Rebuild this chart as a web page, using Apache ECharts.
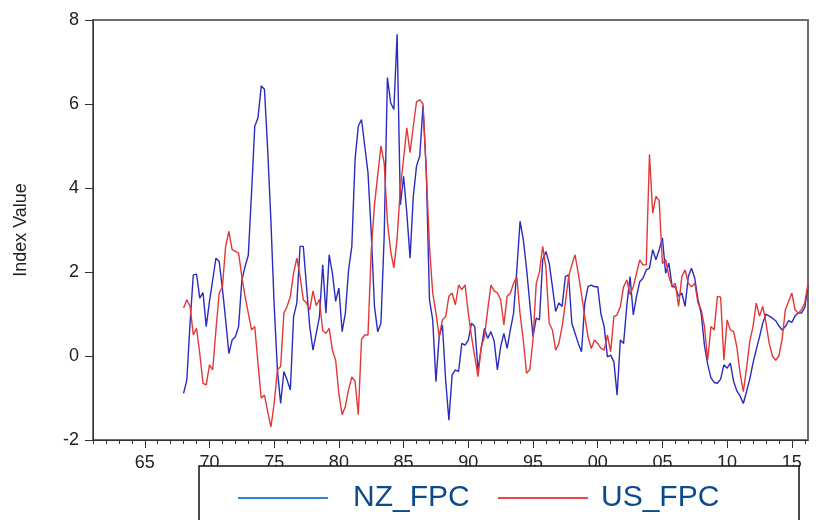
<!DOCTYPE html>
<html><head><meta charset="utf-8">
<script src="https://cdn.jsdelivr.net/npm/echarts@6.0.0/dist/echarts.min.js"></script>
<style>html,body{margin:0;padding:0;background:#fff}#c{width:816px;height:520px}</style>
</head><body><div id="c"></div>
<script>
// Quarterly data, first observation 1968Q1
const startYear = 1968;
const nzFPC = [
  -0.89, -0.57, 0.78, 1.93,
  1.95, 1.38, 1.51, 0.70,
  1.30, 1.81, 2.33, 2.25,
  1.60, 0.86, 0.06, 0.38,
  0.46, 0.70, 1.80, 2.13,
  2.40, 3.88, 5.47, 5.67,
  6.43, 6.35, 4.90, 3.20,
  1.20, -0.33, -1.13, -0.37,
  -0.57, -0.81, 0.94, 1.26,
  2.61, 2.61, 1.65, 0.70,
  0.14, 0.54, 0.94, 2.17,
  1.02, 2.41, 1.97, 1.30,
  1.62, 0.58, 1.02, 2.05,
  2.61, 4.68, 5.47, 5.63,
  5.00, 4.36, 2.93, 1.18,
  0.58, 0.78, 2.85, 6.63,
  6.03, 5.87, 7.66, 3.60,
  4.28, 3.40, 2.33, 3.80,
  4.52, 4.76, 5.95, 4.44,
  1.34, 0.86, -0.61, 0.46,
  0.74, -0.57, -1.53, -0.45,
  -0.33, -0.37, 0.30, 0.26,
  0.38, 0.78, 0.70, -0.33,
  0.18, 0.66, 0.42, 0.58,
  0.35, -0.33, 0.22, 0.54,
  0.18, 0.62, 1.02, 2.05,
  3.21, 2.77, 2.09, 1.26,
  0.46, 0.90, 0.86, 2.29,
  2.49, 2.21, 1.65, 1.06,
  1.26, 1.18, 1.89, 1.93,
  0.78, 0.54, 0.30, 0.10,
  1.26, 1.65, 1.69, 1.65,
  1.65, 1.00, 0.70, -0.02,
  0.02, -0.14, -0.93, 0.38,
  0.30, 1.20, 1.89, 0.98,
  1.42, 1.77, 1.85, 2.05,
  2.09, 2.53, 2.29, 2.53,
  2.81, 1.97, 2.21, 1.65,
  1.65, 1.42, 1.50, 1.18,
  1.89, 2.09, 1.85, 1.34,
  1.00, 0.25, -0.20, -0.52,
  -0.63, -0.65, -0.55, -0.21,
  -0.29, -0.17, -0.60, -0.83,
  -0.95, -1.13, -0.85, -0.55,
  -0.17, 0.15, 0.45, 0.78,
  1.00, 0.95, 0.90, 0.84,
  0.72, 0.62, 0.70, 0.84,
  0.80, 0.95, 1.03, 1.02,
  1.15, 1.65
];
const usFPC = [
  1.14, 1.34, 1.18, 0.50,
  0.66, 0.06, -0.65, -0.69,
  -0.21, -0.33, 0.62, 1.50,
  1.65, 2.61, 2.97, 2.53,
  2.49, 2.45, 1.89, 1.42,
  1.02, 0.62, 0.70, -0.18,
  -1.00, -0.93, -1.33, -1.69,
  -1.13, -0.33, -0.25, 1.02,
  1.18, 1.42, 1.97, 2.33,
  1.90, 1.34, 1.26, 1.10,
  1.55, 1.20, 1.35, 0.60,
  0.54, 0.66, 0.14, -0.10,
  -0.90, -1.40, -1.20, -0.80,
  -0.50, -0.60, -1.40, 0.40,
  0.50, 0.50, 2.50, 3.60,
  4.30, 5.00, 4.60, 3.20,
  2.50, 2.10, 2.80, 4.00,
  4.70, 5.43, 4.84, 5.47,
  6.05, 6.10, 6.00, 4.40,
  2.61, 1.50, 1.02, 0.46,
  0.86, 0.94, 1.42, 1.50,
  1.22, 1.69, 1.58, 1.69,
  1.02, 0.46, -0.02, -0.49,
  0.22, 0.46, 1.10, 1.69,
  1.55, 1.50, 1.34, 0.74,
  1.42, 1.50, 1.73, 1.89,
  1.00, 0.38, -0.41, -0.33,
  0.38, 1.73, 2.01, 2.61,
  2.10, 0.78, 0.62, 0.14,
  0.30, 0.70, 1.26, 1.89,
  2.17, 2.41, 1.97, 1.46,
  0.94, 0.46, 0.18, 0.38,
  0.30, 0.18, 0.14, 0.50,
  0.10, 0.94, 0.98, 1.18,
  1.65, 1.81, 1.46, 1.65,
  1.97, 2.29, 2.17, 2.17,
  4.80, 3.40, 3.80, 3.70,
  2.20, 2.30, 1.90, 1.65,
  1.73, 1.18, 1.89, 2.05,
  1.73, 1.65, 1.73, 1.26,
  1.10, 0.70, -0.10, 0.70,
  0.62, 1.42, 1.40, -0.10,
  0.86, 0.62, 0.58, 0.22,
  -0.40, -0.85, -0.30, 0.35,
  0.70, 1.26, 0.95, 1.18,
  0.80, 0.30, 0.00, -0.10,
  0.00, 0.40, 1.10, 1.30,
  1.50, 1.10, 1.02, 1.10,
  1.26, 1.73
];
const majorTicks = [1965, 1970, 1975, 1980, 1985, 1990, 1995, 2000, 2005, 2010, 2015];
const minorTicks = [];
for (let y = 1961; y <= 2016; y++) minorTicks.push(y);
const seriesNames = ['NZ_FPC', 'US_FPC'];

function toPairs(arr) { return arr.map((v, i) => [startYear + i / 4, v]); }
function yearLabel(v) { const s = String(Math.round(v) % 100); return s.length < 2 ? '0' + s : s; }

const FONT = "'Liberation Sans', Arial, sans-serif";
const chart = echarts.init(document.getElementById('c'), null, { renderer: 'canvas' });
chart.setOption({
  animation: false,
  backgroundColor: '#ffffff',
  grid: { left: 93, right: 8, top: 20, bottom: 80, show: true, borderColor: '#6e6e6e', borderWidth: 2, backgroundColor: 'transparent' },
  xAxis: [
    {
      type: 'value', min: 1961, max: 2016.25, position: 'bottom',
      axisLine: { show: true, onZero: false, lineStyle: { color: '#333', width: 1 } },
      axisTick: { show: true, customValues: minorTicks, length: 4, lineStyle: { color: '#333' } },
      axisLabel: { show: true, customValues: majorTicks, formatter: yearLabel, margin: 14, fontSize: 18, color: '#222', fontFamily: FONT },
      splitLine: { show: false }
    },
    {
      type: 'value', min: 1961, max: 2016.25, position: 'bottom', gridIndex: 0,
      axisLine: { show: false, onZero: false },
      axisTick: { show: true, customValues: majorTicks, length: 8, lineStyle: { color: '#333' } },
      axisLabel: { show: false },
      splitLine: { show: false }
    }
  ],
  yAxis: {
    type: 'value', min: -2, max: 8, interval: 2,
    axisLine: { show: true, lineStyle: { color: '#333', width: 1 } },
    axisTick: { show: true, length: 8, lineStyle: { color: '#333' } },
    axisLabel: { margin: 14, fontSize: 18, color: '#222', fontFamily: FONT },
    splitLine: { show: false },
    name: 'Index Value', nameLocation: 'middle', nameGap: 63,
    nameTextStyle: { fontSize: 18, color: '#222', fontFamily: FONT }
  },
  legend: [
    {
      data: [{ name: seriesNames[0], itemStyle: { color: '#2f86d8' } }],
      left: 238, top: 483, icon: 'rect', itemWidth: 90, itemHeight: 2, padding: 0, z: 20, selectedMode: false,
      textStyle: { fontSize: 30, color: '#0b4a8b', fontFamily: FONT, padding: [0, 0, 6, 20] }
    },
    {
      data: [{ name: seriesNames[1], itemStyle: { color: '#f04848' } }],
      left: 498, top: 483, icon: 'rect', itemWidth: 90, itemHeight: 2, padding: 0, z: 20, selectedMode: false,
      textStyle: { fontSize: 30, color: '#0b4a8b', fontFamily: FONT, padding: [0, 0, 6, 8] }
    }
  ],
  graphic: [
    { type: 'rect', z: 10, shape: { x: 199, y: 466, width: 600, height: 90 }, style: { fill: '#ffffff', stroke: '#111', lineWidth: 1.5 } }
  ],
  series: [
    { name: seriesNames[0], type: 'line', xAxisIndex: 0, data: toPairs(nzFPC), showSymbol: false, symbol: 'none',
      lineStyle: { color: '#2b2bbd', width: 1.4 }, itemStyle: { color: '#2b2bbd' } },
    { name: seriesNames[1], type: 'line', xAxisIndex: 0, data: toPairs(usFPC), showSymbol: false, symbol: 'none',
      lineStyle: { color: '#e23838', width: 1.4 }, itemStyle: { color: '#e23838' } }
  ]
});
</script>
</body></html>
